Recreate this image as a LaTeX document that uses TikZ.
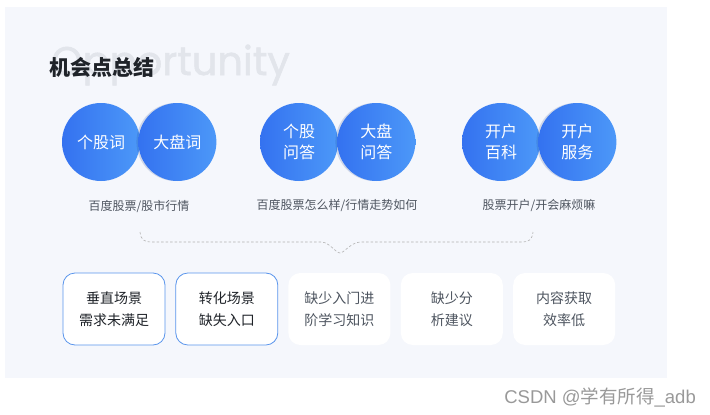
\documentclass[tikz,border=0pt]{standalone}
\usepackage{fontspec}
\setmainfont{Liberation Sans}
\newfontfamily\cjk{Noto Sans CJK SC}
\newfontfamily\latinwm[FakeBold=1.3]{Poppins}
\usetikzlibrary{positioning,shadows}

\definecolor{panelbg}{HTML}{F5F7FC}
\definecolor{bubbleL}{HTML}{3472F0}
\definecolor{bubbleR}{HTML}{4C98F8}
\definecolor{boxline}{HTML}{5A95EC}
\definecolor{inkdark}{HTML}{1F2329}
\definecolor{inkgray}{HTML}{4E5560}
\definecolor{wmgray}{HTML}{E2E5EB}

\tikzset{
  bubble/.style={circle,minimum size=78pt,inner sep=0pt,text=white,
    font=\cjk\fontsize{16}{21}\selectfont,align=center,
    left color=bubbleL,right color=bubbleR},
  bubbleover/.style={bubble,drop shadow={shadow xshift=-2pt,shadow yshift=0pt,opacity=0.18,fill=bubbleL!60!black}},
  caption/.style={text=inkgray,font=\cjk\fontsize{12}{14}\selectfont},
  gapbox/.style={rounded corners=12pt,minimum width=102pt,minimum height=72pt,
    inner sep=0pt,fill=white,align=center,text=inkgray,
    font=\cjk\fontsize{14}{22}\selectfont},
  gapboxhi/.style={gapbox,draw=boxline,line width=0.8pt,text=inkdark},
  brace/.style={gray!60,dashed,dash pattern=on 2.5pt off 2pt,line width=0.6pt}
}

\begin{document}
\begin{tikzpicture}[x=1pt,y=-1pt]
 \useasboundingbox (0,0) rectangle (710,415);
 \fill[white] (0,0) rectangle (710,415);
 \fill[panelbg] (5,7) rectangle (667,378);

 % heading
 \node[anchor=base west,inner sep=0pt,text=wmgray,font=\latinwm\fontsize{40}{40}\selectfont] (wm) at (51,75) {Opportunity};
 \node[anchor=west,inner sep=0pt,text=inkdark,font=\cjk\bfseries\fontsize{21}{21}\selectfont] (title) at (49,67) {机会点总结};

 % bubbles
 \node[bubble] (gegu) at (101,142) {个股词};
 \node[bubbleover,right=-2pt of gegu] (dapan) {大盘词};
 \node[bubble] (geguwd) at (299,142) {个股\\问答};
 \node[bubbleover,right=-1pt of geguwd] (dapanwd) {大盘\\问答};
 \node[bubble] (kaihubk) at (501,142) {开户\\百科};
 \node[bubbleover,right=-2pt of kaihubk] (kaihufw) {开户\\服务};

 \node[caption] (cap1) at (139,206) {百度股票/股市行情};
 \node[caption] (cap2) at (337,206) {百度股票怎么样/行情走势如何};
 \node[caption] (cap3) at (539,206) {股票开户/开会麻烦嘛};

 % dashed brace
 \coordinate (bl) at (140,232);
 \coordinate (br) at (533,232);
 \coordinate (bm) at (340,253);
 \draw[brace] (bl) .. controls (141,240) and (144,242) .. (152,242) -- (322,242)
   .. controls (330,243) and (336,253) .. (bm)
   .. controls (344,253) and (350,243) .. (360,242) -- (521,242)
   .. controls (529,242) and (532,240) .. (br);

 % gaps
 \node[gapboxhi] (chuizhi) at (114,309) {垂直场景\\需求未满足};
 \node[gapboxhi,right=10pt of chuizhi] (zhuanhua) {转化场景\\缺失入口};
 \node[gapbox,right=10pt of zhuanhua] (rumen) {缺少入门进\\阶学习知识};
 \node[gapbox,right=10pt of rumen] (fenxi) {缺少分\\析建议};
 \node[gapbox,right=10pt of fenxi] (xiaolv) {内容获取\\效率低};

 \node[anchor=east,inner sep=0pt,text=gray!80,font=\fontsize{18.5}{18.5}\selectfont] (csdn) at (696,397) {CSDN @{\cjk 学有所得}\_adb};
\end{tikzpicture}
\end{document}
